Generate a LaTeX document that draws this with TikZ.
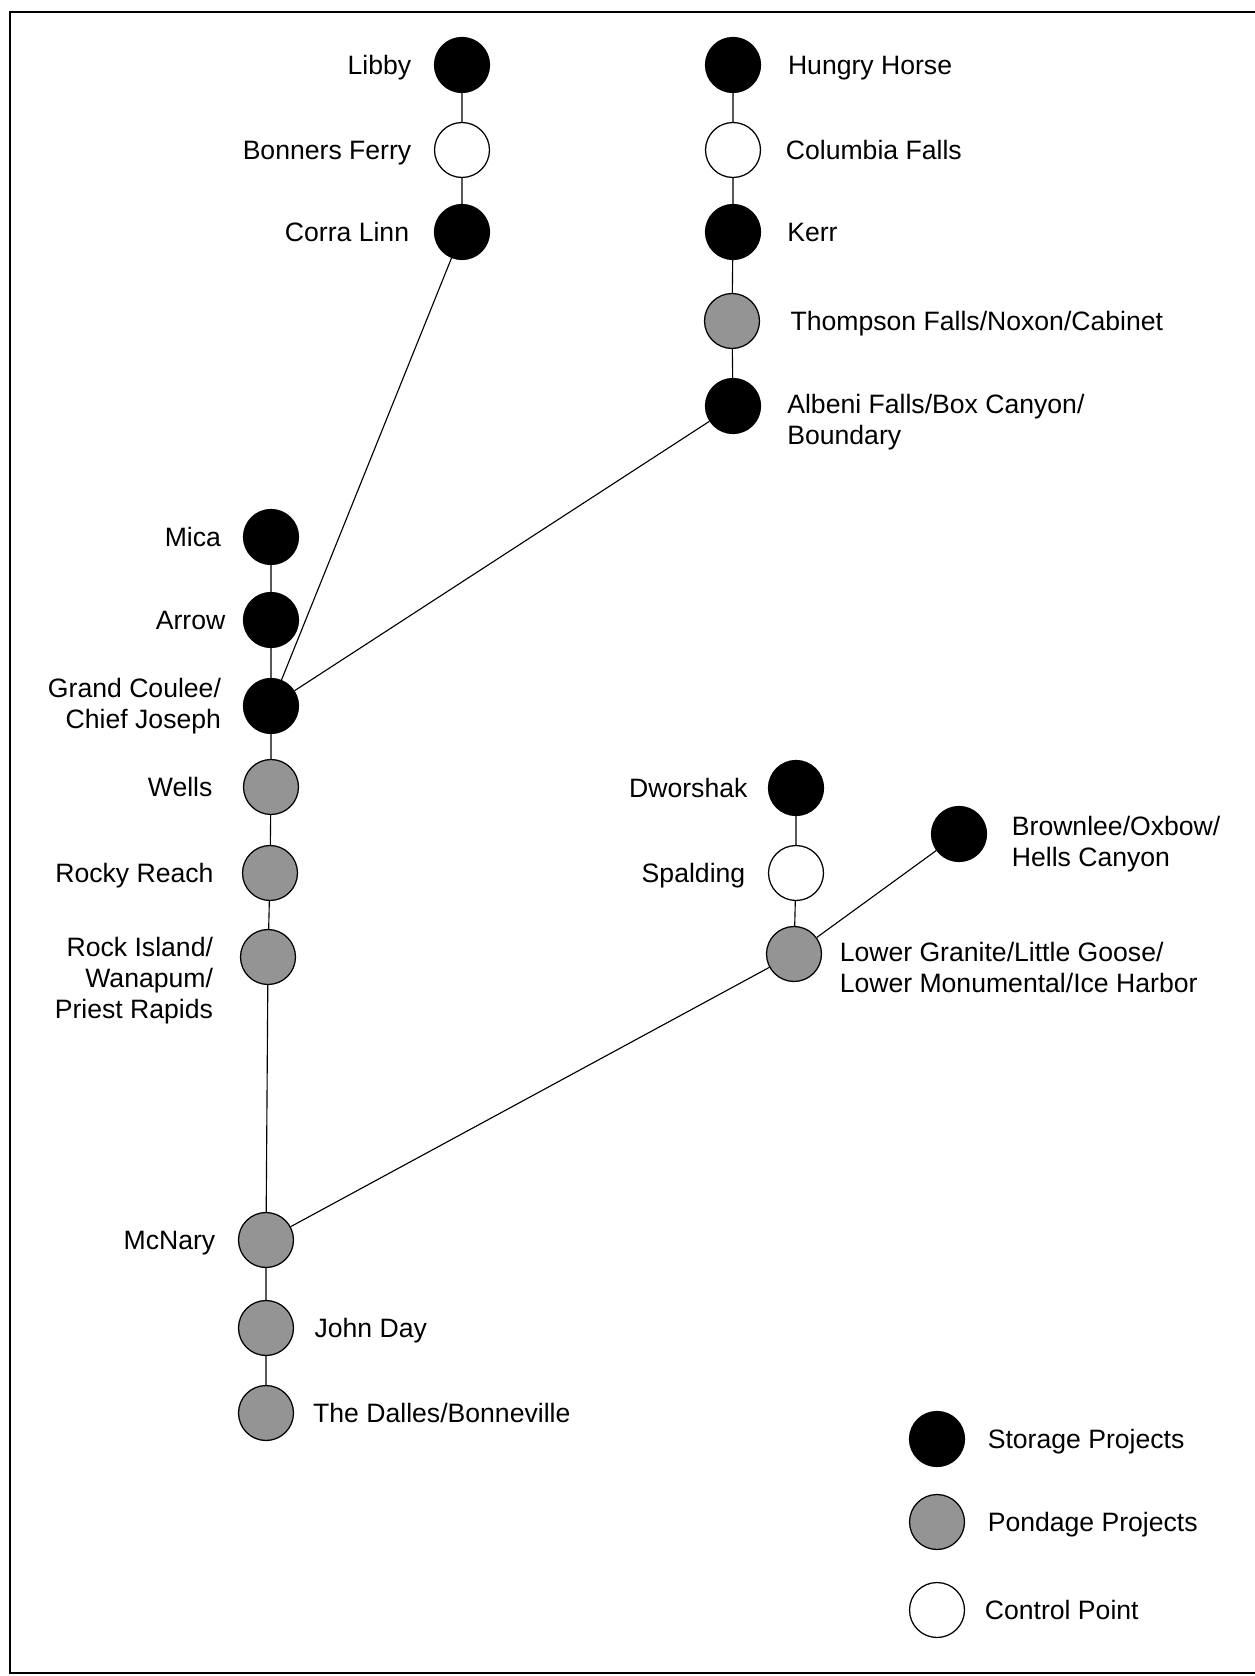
\documentclass[tikz,border=0pt]{standalone}
\usepackage{fontspec}
\setmainfont{Liberation Sans}
\usetikzlibrary{positioning}
\pgfdeclarelayer{background}
\pgfsetlayers{background,main}

\tikzset{
  dam/.style={circle,draw=black,line width=0.5pt,minimum size=0.77cm,inner sep=0pt},
  storage/.style={dam,fill=black},
  pondage/.style={dam,fill=black!42},
  control/.style={dam,fill=white},
  lbl/.style={inner sep=0pt,text height=7.6pt,text depth=0pt,font=\fontsize{10.6}{12.4}\selectfont},
  lbls/.style={inner sep=0pt,font=\fontsize{10.6}{12.4}\selectfont},
  river/.style={line width=0.45pt}
}

\begin{document}
\begin{tikzpicture}[x=0.014cm,y=-0.014cm]
\useasboundingbox (0,0) rectangle (1255,1676);
\draw[line width=1.1pt] (1255,12) -- (10,12) -- (10,1673) -- (1255,1673);

% Kootenai
\node[storage] (libby) at (462,65) {};
\node[control] (bonners) at (462,150) {};
\node[storage] (corra) at (462,232) {};
\node[lbl,left=0.31cm of libby] (libbyL) {Libby};
\node[lbl,left=0.31cm of bonners] (bonnersL) {Bonners Ferry};
\node[lbl,left=0.34cm of corra] (corraL) {Corra Linn};

% Flathead / Pend Oreille
\node[storage] (hungry) at (733,65) {};
\node[control] (colfalls) at (733,150) {};
\node[storage] (kerr) at (733,232) {};
\node[pondage] (thompson) at (732,321) {};
\node[storage] (albeni) at (733,406) {};
\node[lbl,right=0.37cm of hungry] (hungryL) {Hungry Horse};
\node[lbl,right=0.34cm of colfalls] (colfallsL) {Columbia Falls};
\node[lbl,right=0.36cm of kerr] (kerrL) {Kerr};
\node[lbl,right=0.42cm of thompson] (thompsonL) {Thompson Falls/Noxon/Cabinet};
\node[lbls,align=left,right=0.36cm of albeni,anchor=north west,yshift=0.17cm] (albeniL) {Albeni Falls/Box Canyon/\\Boundary};

% Columbia
\node[storage] (mica) at (271,537) {};
\node[storage] (arrow) at (271,620) {};
\node[storage] (coulee) at (271,706) {};
\node[pondage] (wells) at (271,787) {};
\node[pondage] (rockyreach) at (270,873) {};
\node[pondage] (rockisland) at (268,957) {};
\node[pondage] (mcnary) at (266,1240) {};
\node[pondage] (johnday) at (266,1328) {};
\node[pondage] (dalles) at (266,1413) {};
\node[lbl,left=0.30cm of mica] (micaL) {Mica};
\node[lbl,left=0.24cm of arrow] (arrowL) {Arrow};
\node[lbls,align=right,left=0.30cm of coulee] (couleeL) {Grand Coulee/\\Chief Joseph};
\node[lbl,left=0.42cm of wells] (wellsL) {Wells};
\node[lbl,left=0.39cm of rockyreach] (rockyreachL) {Rocky Reach};
\node[lbls,align=right,left=0.37cm of rockisland,anchor=north east,yshift=0.29cm] (rockislandL) {Rock Island/\\Wanapum/\\Priest Rapids};
\node[lbl,left=0.31cm of mcnary] (mcnaryL) {McNary};
\node[lbl,right=0.28cm of johnday] (johndayL) {John Day};
\node[lbl,right=0.26cm of dalles] (dallesL) {The Dalles/Bonneville};

% Snake
\node[storage] (dworshak) at (796,788) {};
\node[control] (spalding) at (796,873) {};
\node[pondage] (granite) at (794,954) {};
\node[storage] (brownlee) at (959,834) {};
\node[lbl,left=0.28cm of dworshak] (dworshakL) {Dworshak};
\node[lbl,left=0.31cm of spalding] (spaldingL) {Spalding};
\node[lbls,align=left,right=0.24cm of granite,anchor=north west,yshift=0.17cm] (graniteL) {Lower Granite/Little Goose/\\Lower Monumental/Ice Harbor};
\node[lbls,align=left,right=0.34cm of brownlee,anchor=north west,yshift=0.26cm] (brownleeL) {Brownlee/Oxbow/\\Hells Canyon};

% legend
\node[storage] (keyS) at (937,1439) {};
\node[pondage] (keyP) at (937,1522) {};
\node[control] (keyC) at (937,1610) {};
\node[lbl,right=0.31cm of keyS] (keySL) {Storage Projects};
\node[lbl,right=0.31cm of keyP] (keyPL) {Pondage Projects};
\node[lbl,right=0.27cm of keyC] (keyCL) {Control Point};

\begin{pgfonlayer}{background}
\draw[river] (libby) -- (bonners) -- (corra) -- (coulee);
\draw[river] (hungry) -- (colfalls) -- (kerr) -- (thompson) -- (albeni) -- (coulee);
\draw[river] (mica) -- (arrow) -- (coulee) -- (wells) -- (rockyreach) -- (rockisland) -- (mcnary) -- (johnday) -- (dalles);
\draw[river] (dworshak) -- (spalding) -- (granite) -- (mcnary);
\draw[river] (brownlee) -- (granite);
\end{pgfonlayer}
\end{tikzpicture}
\end{document}
